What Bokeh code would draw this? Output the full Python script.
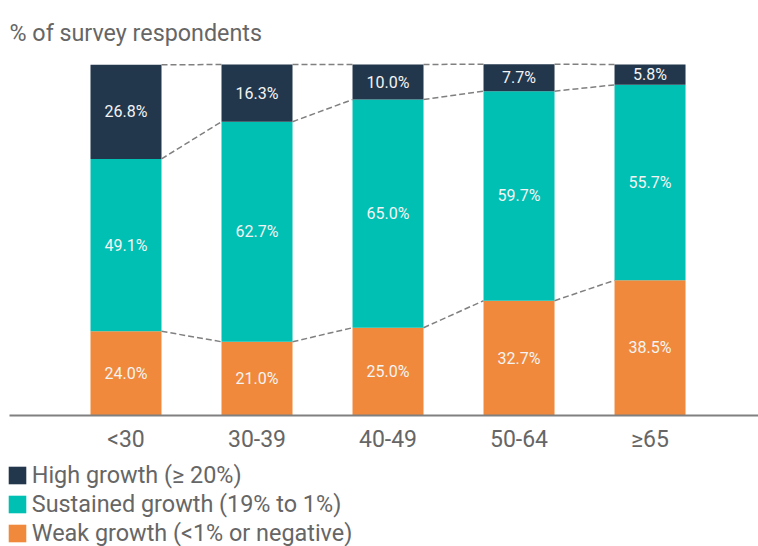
import numpy as np
from bokeh.plotting import figure
from bokeh.models import Range1d, FixedTicker, Label, Legend, LegendItem, ColumnDataSource
from bokeh.embed import file_html
from bokeh.resources import INLINE
from bokeh.core.properties import value

categories = ["<30", "30-39", "40-49", "50-64", "≥65"]
high = [26.8, 16.3, 10.0, 7.7, 5.8]
sustained = [49.1, 62.7, 65.0, 59.7, 55.7]
weak = [24.0, 21.0, 25.0, 32.7, 38.5]
series_names = ["High growth (≥ 20%)", "Sustained growth (19% to 1%)", "Weak growth (<1% or negative)"]
colors = ["#22374C", "#00BFB3", "#F0893B"]
title_text = "% of survey respondents"

FONT = "Roboto"
GRAY = "#666666"
BAR_W = 0.542

x = np.arange(len(categories), dtype=float)
lvl0 = np.zeros(len(categories))
lvl1 = lvl0 + np.array(weak)
lvl2 = lvl1 + np.array(sustained)
lvl3 = lvl2 + np.array(high)

# frame covers whole canvas; 3.51 px per %, 131 px per category
p = figure(width=758, height=546, output_backend="svg", toolbar_location=None,
           x_range=Range1d(-0.958, 4.828), y_range=Range1d(-37.32, 118.23),
           y_axis_location=None, min_border=0)
p.outline_line_color = None
p.xgrid.visible = False
p.ygrid.visible = False
p.background_fill_color = "white"
p.border_fill_color = "white"

renderers = []
for name, col, bot, top, vals in [
    (series_names[2], colors[2], lvl0, lvl1, weak),
    (series_names[1], colors[1], lvl1, lvl2, sustained),
    (series_names[0], colors[0], lvl2, lvl3, high),
]:
    src = ColumnDataSource(dict(x=x, bottom=bot, top=top, mid=(bot + top) / 2,
                                lab=[f"{v:.1f}%" for v in vals]))
    r = p.vbar(x="x", width=BAR_W, bottom="bottom", top="top", source=src,
               fill_color=col, line_color=None)
    renderers.append(r)
    p.text(x="x", y="mid", text="lab", source=src, text_align="center",
           text_baseline="middle", text_color="#F4F4F4", text_font=value(FONT),
           text_font_size="16px")

# dashed connectors between bars
for lvl in [lvl1, lvl2, lvl3]:
    p.segment(x0=x[:-1] + BAR_W / 2, y0=lvl[:-1], x1=x[1:] - BAR_W / 2, y1=lvl[1:],
              line_color="#808080", line_width=1.5, line_dash="6 3")

ax = p.xaxis[0]
ax.fixed_location = 0
ax.bounds = (-0.889, 4.828)
ax.ticker = FixedTicker(ticks=list(x))
ax.major_label_overrides = {i: c for i, c in enumerate(categories)}
ax.major_tick_line_color = None
ax.major_tick_out = 0
ax.major_tick_in = 0
ax.minor_tick_line_color = None
ax.axis_line_color = "#808080"
ax.axis_line_width = 2
ax.major_label_text_font = FONT
ax.major_label_text_font_size = "23px"
ax.major_label_text_color = GRAY
ax.major_label_standoff = 10

p.add_layout(Label(x=9, y=514, x_units="screen", y_units="screen", text=title_text,
                   text_font=FONT, text_font_size="23.3px", text_color=GRAY,
                   text_baseline="alphabetic", text_align="left"))

legend = Legend(items=[LegendItem(label=series_names[0], renderers=[renderers[2]]),
                       LegendItem(label=series_names[1], renderers=[renderers[1]]),
                       LegendItem(label=series_names[2], renderers=[renderers[0]])],
                location=(5.75, -1), orientation="vertical",
                glyph_width=22, glyph_height=22, label_standoff=4, spacing=1,
                padding=0, margin=0, border_line_color=None, background_fill_alpha=0,
                label_text_font=FONT, label_text_font_size="23.4px",
                label_text_color=GRAY, label_height=20)
p.add_layout(legend)

open("out.html", "w").write(file_html(p, INLINE))
